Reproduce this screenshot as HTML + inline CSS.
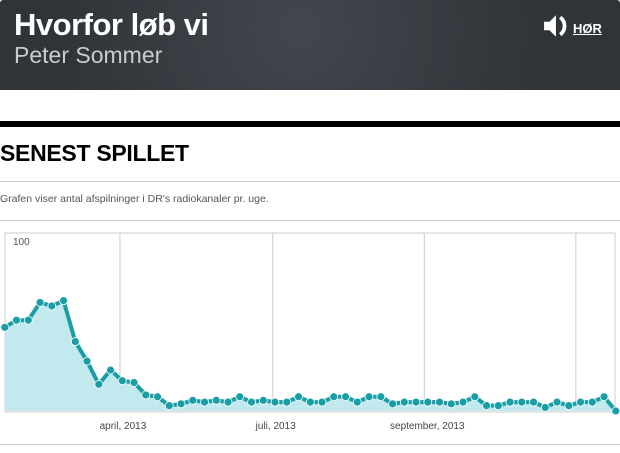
<!DOCTYPE html>
<html><head><meta charset="utf-8">
<style>
body{margin:0;width:620px;height:453px;background:#fff;font-family:"Liberation Sans",sans-serif;position:relative;overflow:hidden}
#hdr{position:absolute;left:0;top:0;width:620px;height:90px;border-radius:3px 3px 0 0;background:radial-gradient(circle at 300px 30px,#42474d,#2f3439 75%),#383d43}
#title{position:absolute;left:14px;top:7px;color:#fff;font-weight:bold;font-size:31px;letter-spacing:-0.5px}
#artist{position:absolute;left:14px;top:42px;color:#c9cccf;font-size:23px}
#listen{position:absolute;left:543px;top:13px;color:#fff;font-size:13px;font-weight:bold}
#listen span{text-decoration:underline;margin-left:2px;vertical-align:6px}
#bar{position:absolute;left:0;top:121px;width:620px;height:6px;background:#000}
#h2{position:absolute;left:0;top:140px;font-size:23px;font-weight:bold;color:#000;letter-spacing:-0.3px}
.hr{position:absolute;left:0;width:620px;height:1px;background:#ccc}
#desc{position:absolute;left:0;top:193px;font-size:10.5px;color:#555}
</style></head><body>
<div id="hdr">
<div id="title">Hvorfor løb vi</div>
<div id="artist">Peter Sommer</div>
<div id="listen"><svg width="28" height="26" viewBox="0 0 26 24"><path d="M1 8h5l6-6v20l-6-6H1z" fill="#fff"/><path d="M16 4a10 10 0 0 1 0 16" stroke="#fff" stroke-width="3.5" fill="none"/></svg><span>HØR</span></div>
</div>
<div id="bar"></div>
<div id="h2">SENEST SPILLET</div>
<div class="hr" style="top:181px"></div>
<div id="desc">Grafen viser antal afspilninger i DR's radiokanaler pr. uge.</div>
<div class="hr" style="top:220px"></div>
<div class="hr" style="top:444px"></div>
<svg id="chart" width="620" height="453" style="position:absolute;left:0;top:0"></svg>
<script>
const values=[47,51,51,61,59,62,39,28,15,23,17,16,9,8,3,4,6,5,6,5,8,5,6,5,5,8,5,5,8,8,5,8,8,4,5,5,5,5,4,5,8,3,3,5,5,5,2,5,3,5,5,8,0];
const tickLabels=["april, 2013","juli, 2013","september, 2013",""];
const tickWeeks=[9.8,22.8,35.7,48.6];
const yMax=100;
const ns="http://www.w3.org/2000/svg";
const svg=document.getElementById('chart');
const L=5,R=615,T=233,B=411,x0=4.8,dx=11.75;
const X=i=>x0+i*dx, Y=v=>B-(v/yMax)*(B-T);
function mk(t,a){const e=document.createElementNS(ns,t);for(const k in a)e.setAttribute(k,a[k]);svg.appendChild(e);return e;}
const frame=mk('rect',{x:L,y:T,width:R-L,height:B-T+1,fill:'none',stroke:'#ccc'});


tickWeeks.forEach((w,i)=>{
 const g=mk('line',{x1:X(w),x2:X(w),y1:T,y2:B,stroke:'#ccc'});
 
 
 if(tickLabels[i]){const t=mk('text',{x:X(w)+3,y:429,'text-anchor':'middle','font-size':10,fill:'#444','font-family':'Liberation Sans, sans-serif'});t.textContent=tickLabels[i];
 
 }
});
const yl=mk('text',{x:13,y:245,'font-size':10,fill:'#555','font-family':'Liberation Sans, sans-serif'});yl.textContent=String(yMax);


let d=values.map((v,i)=>(i?'L':'M')+X(i)+' '+Y(v)).join(' ');
const area=mk('path',{d:d+' L'+X(values.length-1)+' '+B+' L'+X(0)+' '+B+' Z',fill:'#c2e9ed'});


const line=mk('path',{d:d,fill:'none',stroke:'#1a9ea6','stroke-width':4,'stroke-linejoin':'round'});


values.forEach((v,i)=>{const c=mk('circle',{cx:X(i),cy:Y(v),r:4,fill:'#1a9ea6',stroke:'#fff','stroke-width':0.8});
 
 });
</script>
</body></html>
